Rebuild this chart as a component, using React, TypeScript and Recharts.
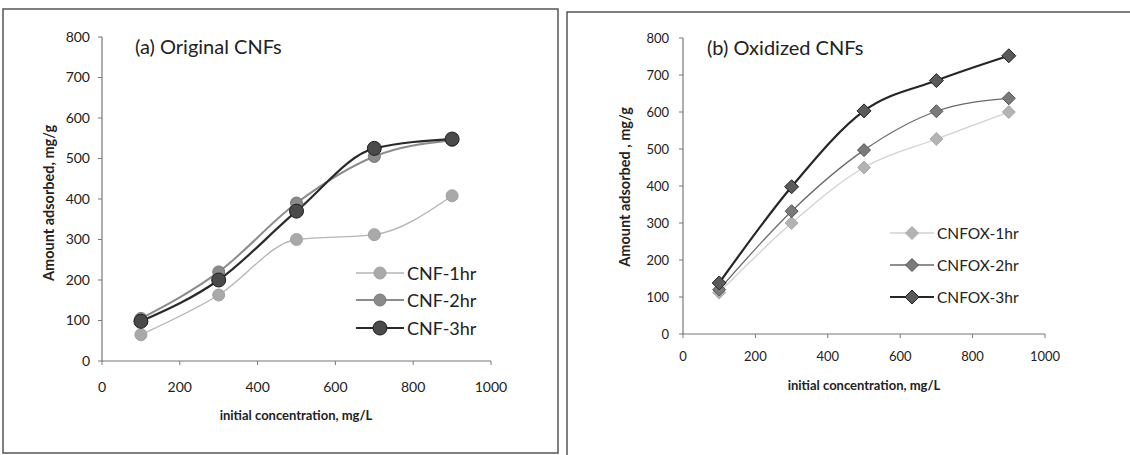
import React from 'react';
import { LineChart, Line, XAxis, YAxis, Legend } from 'recharts';

const concentrations = [100, 300, 500, 700, 900];
const cnf1hr = [65, 163, 300, 312, 408];
const cnf2hr = [105, 220, 390, 505, 545];
const cnf3hr = [98, 200, 370, 525, 548];
const cnfox1hr = [112, 300, 450, 527, 600];
const cnfox2hr = [120, 332, 497, 602, 637];
const cnfox3hr = [138, 398, 603, 685, 752];
const xTicks = [0, 200, 400, 600, 800, 1000];
const yTicks = [0, 100, 200, 300, 400, 500, 600, 700, 800];

const leftData = concentrations.map((c, i) => ({ c, a: cnf1hr[i], b: cnf2hr[i], d: cnf3hr[i] }));
const rightData = concentrations.map((c, i) => ({ c, a: cnfox1hr[i], b: cnfox2hr[i], d: cnfox3hr[i] }));

const FONT = "Lato, 'Open Sans', sans-serif";

type Style = { label: string; stroke: string; width: number; fill: string; mStroke: string; size: number; shape: 'circle' | 'diamond' };

const leftStyles: Style[] = [
  { label: 'CNF-1hr', stroke: '#b4b4b4', width: 1.3, fill: '#a9a9a9', mStroke: '#a0a0a0', size: 6, shape: 'circle' },
  { label: 'CNF-2hr', stroke: '#8c8c8c', width: 2, fill: '#8a8a8a', mStroke: '#777', size: 6, shape: 'circle' },
  { label: 'CNF-3hr', stroke: '#2a2a2a', width: 2.2, fill: '#4a4a4a', mStroke: '#1e1e1e', size: 7, shape: 'circle' },
];
const rightStyles: Style[] = [
  { label: 'CNFOX-1hr', stroke: '#d2d2d2', width: 1.3, fill: '#b3b3b3', mStroke: '#aaa', size: 6.5, shape: 'diamond' },
  { label: 'CNFOX-2hr', stroke: '#6a6a6a', width: 1.3, fill: '#7a7a7a', mStroke: '#555', size: 6.5, shape: 'diamond' },
  { label: 'CNFOX-3hr', stroke: '#262626', width: 2.2, fill: '#5a5a5a', mStroke: '#222', size: 7, shape: 'diamond' },
];

function marker(s: Style, cx: number, cy: number, key?: any) {
  if (s.shape === 'circle') {
    return <circle key={key} cx={cx} cy={cy} r={s.size} fill={s.fill} stroke={s.mStroke} strokeWidth={1} />;
  }
  const r = s.size;
  return (
    <path key={key} d={`M${cx},${cy - r}L${cx + r},${cy}L${cx},${cy + r}L${cx - r},${cy}Z`} fill={s.fill} stroke={s.mStroke} strokeWidth={1} />
  );
}

const dotFor = (s: Style) => (props: any) => {
  const { cx, cy, index } = props;
  if (cx == null || cy == null) return <g key={index} />;
  return marker(s, cx, cy, index);
};

function makeLegend(styles: Style[], rowH: number, lineW: number, fontSize: number) {
  return () => (
    <div style={{ fontFamily: FONT, fontSize, color: '#222' }}>
      {styles.map((s) => (
        <div key={s.label} style={{ display: 'flex', alignItems: 'center', height: rowH }}>
          <svg width={lineW} height={20} style={{ marginRight: 3 }}>
            <line x1={0} y1={10} x2={lineW} y2={10} stroke={s.stroke} strokeWidth={s.width} />
            {marker(s, lineW / 2, 10)}
          </svg>
          <span>{s.label}</span>
        </div>
      ))}
    </div>
  );
}

const tickStyle = (size: number) => ({ fontFamily: FONT, fontSize: size, fill: '#222' });

export default function App() {
  return (
    <div style={{ position: 'absolute', left: 0, top: 0, width: 1130, height: 455, background: '#fff', overflow: 'hidden' }}>
      {/* Left chart */}
      <div style={{ position: 'absolute', left: 0, top: 0 }}>
        <LineChart width={565} height={455} data={leftData} margin={{ top: 37, right: 565 - 491, left: 0, bottom: 455 - 361 - 30 }}>
          <XAxis dataKey="c" type="number" domain={[0, 1000]} ticks={xTicks} height={30} tickSize={4} tickMargin={17}
            stroke="#777" tick={tickStyle(14)} axisLine={{ stroke: '#777', strokeWidth: 1.2 }} />
          <YAxis type="number" domain={[0, 800]} ticks={yTicks} width={102} tickSize={4} tickMargin={8}
            stroke="#777" tick={tickStyle(14)} axisLine={{ stroke: '#777', strokeWidth: 1.2 }} />
          <Legend layout="vertical" align="center" verticalAlign="middle" content={makeLegend(leftStyles, 27.5, 48, 18)}
            wrapperStyle={{ left: 356, top: 273 - 14, width: 160 }} />
          {(['a', 'b', 'd'] as const).map((k, i) => (
            <Line key={k} dataKey={k} name={leftStyles[i].label} type="monotone" stroke={leftStyles[i].stroke}
              strokeWidth={leftStyles[i].width} dot={dotFor(leftStyles[i])} activeDot={false} isAnimationActive={false} />
          ))}
        </LineChart>
        <svg width={565} height={455} style={{ position: 'absolute', left: 0, top: 0, pointerEvents: 'none' }}>
          <rect x={3} y={9} width={555} height={444} fill="none" stroke="#555" strokeWidth={1.5} />
          <text x={135} y={54} fontFamily={FONT} fontSize={20} fill="#222">(a) Original CNFs</text>
          <text x={296} y={415} fontFamily={FONT} fontSize={13} fontWeight="bold" fill="#222" textAnchor="middle" dominantBaseline="central">initial concentration, mg/L</text>
          <text transform="translate(48,203) rotate(-90)" fontFamily={FONT} fontSize={14.5} fontWeight="bold" fill="#222" textAnchor="middle" dominantBaseline="central">Amount adsorbed, mg/g</text>
        </svg>
      </div>
      {/* Right chart */}
      <div style={{ position: 'absolute', left: 565, top: 0 }}>
        <LineChart width={565} height={455} data={rightData} margin={{ top: 38, right: 565 - (1045 - 565), left: 0, bottom: 455 - 334 - 30 }}>
          <XAxis dataKey="c" type="number" domain={[0, 1000]} ticks={xTicks} height={30} tickSize={4} tickMargin={14}
            stroke="#777" tick={tickStyle(13)} axisLine={{ stroke: '#777', strokeWidth: 1.2 }} />
          <YAxis type="number" domain={[0, 800]} ticks={yTicks} width={683 - 565} tickSize={4} tickMargin={10}
            stroke="#777" tick={tickStyle(13)} axisLine={{ stroke: '#777', strokeWidth: 1.2 }} />
          <Legend layout="vertical" align="center" verticalAlign="middle" content={makeLegend(rightStyles, 32, 44, 15.5)}
            wrapperStyle={{ left: 890 - 565, top: 233 - 16, width: 170 }} />
          {(['a', 'b', 'd'] as const).map((k, i) => (
            <Line key={k} dataKey={k} name={rightStyles[i].label} type="monotone" stroke={rightStyles[i].stroke}
              strokeWidth={rightStyles[i].width} dot={dotFor(rightStyles[i])} activeDot={false} isAnimationActive={false} />
          ))}
        </LineChart>
        <svg width={565} height={455} style={{ position: 'absolute', left: 0, top: 0, pointerEvents: 'none' }}>
          <rect x={2} y={12} width={600} height={500} fill="none" stroke="#555" strokeWidth={1.5} />
          <text x={707 - 565} y={55} fontFamily={FONT} fontSize={20} fill="#222">(b) Oxidized CNFs</text>
          <text x={864 - 565} y={385} fontFamily={FONT} fontSize={13} fontWeight="bold" fill="#222" textAnchor="middle" dominantBaseline="central">initial concentration, mg/L</text>
          <text transform={`translate(${624 - 565},187) rotate(-90)`} fontFamily={FONT} fontSize={14.5} fontWeight="bold" fill="#222" textAnchor="middle" dominantBaseline="central">Amount adsorbed , mg/g</text>
        </svg>
      </div>
    </div>
  );
}
